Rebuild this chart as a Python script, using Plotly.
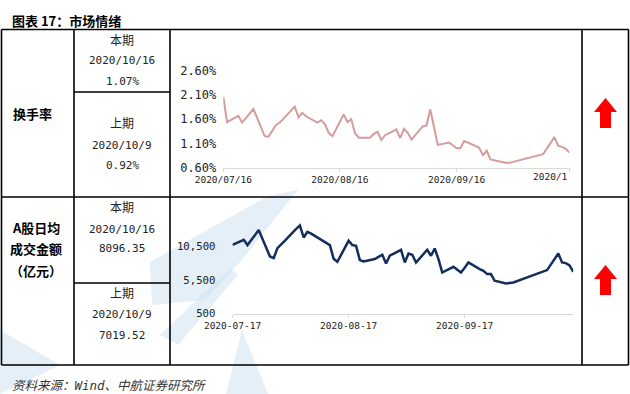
import plotly.graph_objects as go

# ---------------- data ----------------
turn_dates = [
    "2020-07-16", "2020-07-17", "2020-07-20", "2020-07-21", "2020-07-22", "2020-07-23", "2020-07-24",
    "2020-07-27", "2020-07-28", "2020-07-29", "2020-07-30", "2020-07-31",
    "2020-08-03", "2020-08-04", "2020-08-05", "2020-08-06", "2020-08-07",
    "2020-08-10", "2020-08-11", "2020-08-12", "2020-08-13", "2020-08-14",
    "2020-08-17", "2020-08-18", "2020-08-19", "2020-08-20", "2020-08-21",
    "2020-08-24", "2020-08-25", "2020-08-26", "2020-08-27", "2020-08-28", "2020-08-31",
    "2020-09-01", "2020-09-02", "2020-09-03", "2020-09-04",
    "2020-09-07", "2020-09-08", "2020-09-09", "2020-09-10", "2020-09-11",
    "2020-09-14", "2020-09-15", "2020-09-16", "2020-09-17", "2020-09-18",
    "2020-09-21", "2020-09-22", "2020-09-23", "2020-09-24", "2020-09-25",
    "2020-09-28", "2020-09-29", "2020-09-30",
    "2020-10-09", "2020-10-12", "2020-10-13", "2020-10-14", "2020-10-15", "2020-10-16",
]
turn_values = [
    2.06, 1.54, 1.67, 1.53, 1.62, 1.72, 1.81,
    1.25, 1.24, 1.36, 1.48, 1.53,
    1.78, 1.86, 1.64, 1.73, 1.66,
    1.53, 1.58, 1.50, 1.32, 1.25,
    1.70, 1.54, 1.60, 1.31, 1.22,
    1.22, 1.30, 1.34, 1.17, 1.27, 1.39,
    1.21, 1.40, 1.32, 1.18,
    1.45, 1.47, 1.80, 1.44, 1.07,
    1.12, 1.05, 1.00, 1.00, 1.15,
    1.05, 1.01, 0.86, 0.95, 0.77,
    0.72, 0.70, 0.70,
    0.88, 1.23, 1.05, 1.03, 0.99, 0.91,
]

vol_dates = turn_dates[1:]
vol_values = [
    10750, 11490, 10710, 11500, 12300, 12940,
    9010, 8770, 10260, 10770, 11360,
    13130, 13620, 11840, 12690, 12420,
    11390, 11050, 10710, 8670, 8220,
    11350, 10710, 10600, 8480, 8270,
    8630, 8950, 9270, 7970, 9120, 10010,
    8120, 9460, 9270, 8120,
    10010, 9120, 10200, 8630, 6630,
    7480, 7030, 6630, 7350, 8120,
    7140, 6880, 6390, 6390, 5400,
    4990, 5070, 5140,
    6990, 9460, 8120, 8030, 7700, 6740,
]

turn_tickvals = ["2020-07-16", "2020-08-16", "2020-09-16", "2020-10-16"]
turn_ticktext = ["2020/07/16", "2020/08/16", "2020/09/16", ""]
turn_yticks = [0.6, 1.1, 1.6, 2.1, 2.6]
turn_yticktext = ["0.60%", "1.10%", "1.60%", "2.10%", "2.60%"]
vol_tickvals = ["2020-07-17", "2020-08-17", "2020-09-17"]
vol_ticktext = ["2020-07-17", "2020-08-17", "2020-09-17"]
vol_yticks = [500, 5500, 10500]
vol_yticktext = ["500", "5,500", "10,500"]

title_text = "图表 17：市场情绪"
source_text = "资料来源：Wind、中航证券研究所"
row_labels = ["换手率", "A股日均", "成交金额", "（亿元）"]
cur_turn = ["本期", "2020/10/16", "1.07%"]
prev_turn = ["上期", "2020/10/9", "0.92%"]
cur_vol = ["本期", "2020/10/16", "8096.35"]
prev_vol = ["上期", "2020/10/9", "7019.52"]

# ---------------- layout helpers ----------------
W, H = 630, 394


def px(x):
    return x / W


def py(y):
    return 1 - y / H


MONO = "DejaVu Sans Mono, Noto Sans CJK SC"
CJK = "Noto Sans CJK SC"

fig = go.Figure()
fig.add_trace(go.Scatter(x=turn_dates, y=turn_values, mode="lines",
                         line=dict(color="#D49C9A", width=2), xaxis="x", yaxis="y",
                         hoverinfo="skip", showlegend=False))
fig.add_trace(go.Scatter(x=vol_dates, y=vol_values, mode="lines",
                         line=dict(color="#132E5C", width=2.5), xaxis="x2", yaxis="y2",
                         hoverinfo="skip", showlegend=False))

axis_font_x = dict(family=MONO, size=9.5, color="#222")

fig.update_layout(
    width=W, height=H, autosize=False,
    margin=dict(l=0, r=0, t=0, b=0, pad=0, autoexpand=False),
    paper_bgcolor="white", plot_bgcolor="rgba(0,0,0,0)",
    showlegend=False,
    xaxis=dict(domain=[px(223.3), px(569.5)], range=["2020-07-16", "2020-10-16"], type="date",
               tickvals=turn_tickvals, ticktext=turn_ticktext, tickfont=axis_font_x,
               showgrid=False, zeroline=False, showline=True, linecolor="#D9D9D9", linewidth=1,
               ticks="outside", ticklen=3, tickcolor="#D9D9D9", anchor="y", fixedrange=True,
               automargin=False),
    yaxis=dict(domain=[py(167.7), py(61)], range=[0.6, 2.8], tickvals=turn_yticks,
               ticktext=turn_yticktext, tickfont=dict(family=MONO, size=12, color="#222"),
               showgrid=False, zeroline=False, showline=False, ticks="", anchor="x",
               ticklabelstandoff=6, fixedrange=True, automargin=False),
    xaxis2=dict(domain=[px(232.5), px(573.3)], range=["2020-07-17", "2020-10-16"], type="date",
                tickvals=vol_tickvals, ticktext=vol_ticktext, tickfont=axis_font_x,
                showgrid=False, zeroline=False, showline=True, linecolor="#D9D9D9", linewidth=1,
                ticks="outside", ticklen=3, tickcolor="#D9D9D9", anchor="y2", fixedrange=True,
                automargin=False),
    yaxis2=dict(domain=[py(313.7), py(212.9)], range=[500, 15500], tickvals=vol_yticks,
                ticktext=vol_yticktext, tickfont=dict(family=MONO, size=10.7, color="#222"),
                showgrid=False, zeroline=False, showline=False, ticks="", anchor="x2",
                ticklabelstandoff=16, fixedrange=True, automargin=False),
)

shapes = []

# faint watermark (compass)
wm = "rgba(205,225,242,0.55)"


def poly(pts, color):
    d = "M " + " L ".join(f"{px(x):.5f},{py(y):.5f}" for x, y in pts) + " Z"
    return dict(type="path", path=d, xref="paper", yref="paper", fillcolor=color,
                line=dict(width=0), layer="below")


shapes.append(poly([(298, 190), (268, 196), (150, 262), (152, 305), (205, 300), (240, 262)], wm))
shapes.append(poly([(230, 268), (160, 335), (178, 345), (238, 275)], wm))
shapes.append(poly([(242, 330), (226, 394), (268, 394)], wm))
shapes.append(poly([(0, 330), (60, 365), (0, 394)], wm))

# table lines
lc = "black"
lw = 1.6


def hline(x0, x1, y):
    return dict(type="line", xref="paper", yref="paper", x0=px(x0), x1=px(x1), y0=py(y), y1=py(y),
                line=dict(color=lc, width=lw), layer="above")


def vline(x, y0, y1):
    return dict(type="line", xref="paper", yref="paper", x0=px(x), x1=px(x), y0=py(y0), y1=py(y1),
                line=dict(color=lc, width=lw), layer="above")


shapes += [
    hline(1.5, 628.5, 29.5), hline(1.5, 628.5, 197), hline(1.5, 628.5, 365),
    hline(74, 170, 92), hline(74, 170, 283),
    vline(1.5, 29.5, 365), vline(74, 29.5, 365), vline(170, 29.5, 365),
    vline(582, 29.5, 365), vline(628.5, 29.5, 365),
]

# red up arrows


def arrow(cx, top):
    pts = [(cx, top), (cx + 11.5, top + 14), (cx + 5.5, top + 14), (cx + 5.5, top + 30),
           (cx - 5.5, top + 30), (cx - 5.5, top + 14), (cx - 11.5, top + 14)]
    d = "M " + " L ".join(f"{px(x):.5f},{py(y):.5f}" for x, y in pts) + " Z"
    return dict(type="path", path=d, xref="paper", yref="paper", fillcolor="#FF0000",
                line=dict(width=0), layer="above")


shapes += [arrow(605.5, 98), arrow(605.5, 265)]
fig.update_layout(shapes=shapes)

ann = []


def text(x, y, s, size=11, family=MONO, color="#222", xanchor="center"):
    ann.append(dict(x=px(x), y=py(y), xref="paper", yref="paper", text=s, showarrow=False,
                    xanchor=xanchor, yanchor="middle", font=dict(family=family, size=size, color=color)))


text(10, 20.5, f"<b>{title_text}</b>", size=13, family=CJK, color="black", xanchor="left")
text(10, 385, f"<i>{source_text}</i>", size=12.5, family=MONO, color="#333", xanchor="left")

text(32, 113, f"<b>{row_labels[0]}</b>", size=13, family=CJK, color="black")
text(36, 228, f"<b>{row_labels[1]}</b>", size=13, family=CJK, color="black")
text(36, 249, f"<b>{row_labels[2]}</b>", size=13, family=CJK, color="black")
text(36, 270, f"<b>{row_labels[3]}</b>", size=13, family=CJK, color="black")

for s, y in zip(cur_turn, [40.7, 61, 81.7]):
    text(122, y, s, size=12 if y == 40.7 else 11)
for s, y in zip(prev_turn, [124, 145, 165.7]):
    text(122, y, s, size=12 if y == 124 else 11)
for s, y in zip(cur_vol, [208.3, 229, 249]):
    text(122, y, s, size=12 if y == 208.3 else 11)
for s, y in zip(prev_vol, [294, 314.3, 335]):
    text(122, y, s, size=12 if y == 294 else 11)

# clipped last tick label of the turnover chart
ann.append(dict(x="2020-10-16", xref="x", y=py(176.7), yref="paper", text="2020/1", showarrow=False,
                xanchor="right", yanchor="middle", font=axis_font_x))

fig.update_layout(annotations=ann)

fig.write_html("out.html", config={"displayModeBar": False},
               post_script="document.body.style.margin='0';document.body.style.overflow='hidden';")
